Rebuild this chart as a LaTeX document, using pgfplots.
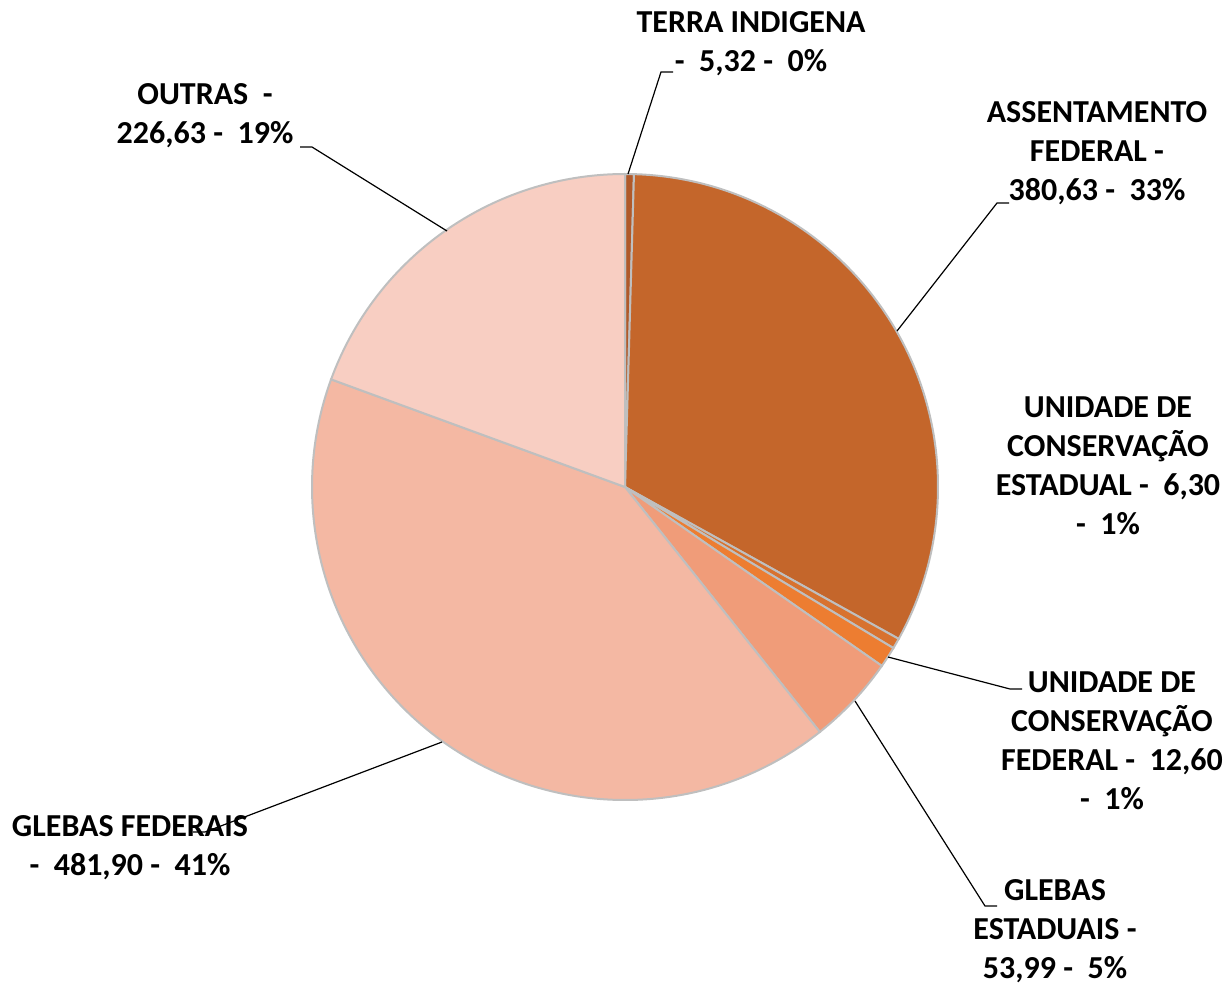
\documentclass[border=0pt]{standalone}
\usepackage{pgfplots}
\usepackage{pgfplotstable}
\pgfplotsset{compat=1.18}
\usepackage{fontspec}
\setmainfont{Carlito}
\definecolor{cTI}{HTML}{B0592A}
\definecolor{cAF}{HTML}{C4662B}
\definecolor{cUE}{HTML}{D8722F}
\definecolor{cUF}{HTML}{ED7D31}
\definecolor{cGE}{HTML}{F09C79}
\definecolor{cGF}{HTML}{F4B8A3}
\definecolor{cOU}{HTML}{F8CEC2}
\pgfplotstableread{
name value col
TI 5.32 cTI
AF 380.63 cAF
UE 6.30 cUE
UF 12.60 cUF
GE 53.99 cGE
GF 481.90 cGF
OU 226.63 cOU
}\piedata
\begin{document}
\begin{tikzpicture}
\begin{axis}[
  x=0.5pt, y=0.5pt, y dir=reverse,
  xmin=0, xmax=1232, ymin=0, ymax=985,
  hide axis, clip=false,
]
\coordinate (BL) at (axis cs:0,985);
\coordinate (TR) at (axis cs:1232,0);
\pgfplotstablegetrowsof{\piedata}
\pgfmathtruncatemacro{\nrows}{\pgfplotsretval-1}
\xdef\total{0}
\foreach \i in {0,...,\nrows}{
  \pgfplotstablegetelem{\i}{value}\of{\piedata}
  \pgfmathparse{\total+\pgfplotsretval}
  \xdef\total{\pgfmathresult}
}
\xdef\angA{90}
\foreach \i in {0,...,\nrows}{
  \pgfplotstablegetelem{\i}{value}\of{\piedata}
  \let\v\pgfplotsretval
  \pgfplotstablegetelem{\i}{col}\of{\piedata}
  \let\c\pgfplotsretval
  \pgfmathsetmacro{\frac}{\v/\total}
  \pgfmathsetmacro{\angB}{\angA-\frac*360}
  \edef\temp{\noexpand\fill[\c, draw=black!25, line width=1pt] (axis cs:625,487) -- ++(\angA:156.5pt) arc[start angle=\angA, end angle=\angB, radius=156.5pt] -- cycle;}
  \temp
  \xdef\angA{\angB}
}
\begin{scope}[every node/.style={font=\fontsize{16}{19.5}\selectfont\bfseries, align=center, inner sep=0pt}]
\node at (axis cs:751,44) {TERRA INDIGENA\\-\ \ 5,32 -\ \ 0\%};
\draw[line width=0.6pt] (axis cs:628,174) -- (axis cs:661,72) -- (axis cs:673,72);
\node at (axis cs:1097,153) {ASSENTAMENTO\\FEDERAL -\\380,63 -\ \ 33\%};
\draw[line width=0.6pt] (axis cs:897,331) -- (axis cs:997,203) -- (axis cs:1009,203);
\node at (axis cs:1108,466) {UNIDADE DE\\CONSERVAÇÃO\\ESTADUAL -\ \ 6,30\\-\ \ 1\%};
\node at (axis cs:1112,741) {UNIDADE DE\\CONSERVAÇÃO\\FEDERAL -\ \ 12,60\\-\ \ 1\%};
\draw[line width=0.6pt] (axis cs:888,657) -- (axis cs:1010,689) -- (axis cs:1022,689);
\node at (axis cs:1055,931) {GLEBAS\\ESTADUAIS -\\53,99 -\ \ 5\%};
\draw[line width=0.6pt] (axis cs:855,701) -- (axis cs:985,906) -- (axis cs:997,906);
\node at (axis cs:130,848) {GLEBAS FEDERAIS\\-\ \ 481,90 -\ \ 41\%};
\draw[line width=0.6pt] (axis cs:442,742) -- (axis cs:205,832) -- (axis cs:193,832);
\node at (axis cs:205,116) {OUTRAS\ \ -\\226,63 -\ \ 19\%};
\draw[line width=0.6pt] (axis cs:447,231) -- (axis cs:312,147) -- (axis cs:300,147);
\end{scope}
\end{axis}
\pgfresetboundingbox
\path[use as bounding box] (BL) rectangle (TR);
\end{tikzpicture}
\end{document}
